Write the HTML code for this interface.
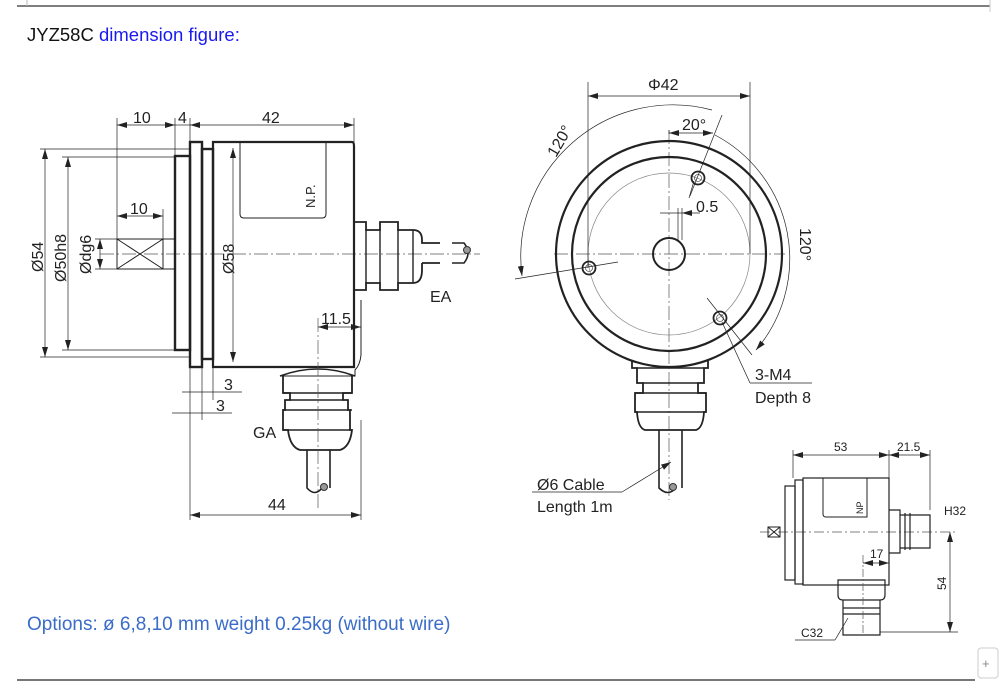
<!DOCTYPE html>
<html><head><meta charset="utf-8"><style>
html,body{margin:0;padding:0;background:#fff;}
svg{display:block;font-family:"Liberation Sans",Arial,sans-serif;}
</style></head><body>
<svg width="1000" height="692" viewBox="0 0 1000 692" xmlns="http://www.w3.org/2000/svg">
<defs>
<marker id="a" viewBox="0 0 10 6" refX="10" refY="3" markerWidth="10" markerHeight="6" orient="auto-start-reverse" markerUnits="userSpaceOnUse"><path d="M0 0 L10 3 L0 6 Z" fill="#222"/></marker>
</defs>
<line x1="17" y1="6" x2="990" y2="6" stroke="#555" stroke-width="1.5"/>
<line x1="27" y1="0" x2="27" y2="6" stroke="#bbb"/>
<line x1="990" y1="0" x2="990" y2="12" stroke="#ccc"/>
<text x="27" y="41" font-size="18.5" fill="#111">JYZ58C <tspan fill="#1a1aee">dimension figure:</tspan></text>
<line x1="17" y1="680" x2="975" y2="680" stroke="#777" stroke-width="2"/>
<rect x="978" y="648" width="20" height="30" rx="3" fill="#fff" stroke="#ccc"/>
<text x="982" y="668" font-size="13" fill="#888">+</text>
<text x="27" y="630" font-size="19" fill="#3a6cc8">Options: ø 6,8,10 mm weight 0.25kg (without wire)</text>

<g stroke="#222" fill="none" stroke-width="1">
<!-- LEFT VIEW -->
<line x1="100" y1="254" x2="480" y2="254" stroke="#555" stroke-width="0.7" stroke-dasharray="14 3 2 3"/>
<rect x="175" y="156" width="15" height="194" stroke-width="2.4"/>
<rect x="190" y="142" width="12" height="225" stroke-width="2.4"/>
<rect x="202" y="149" width="11" height="210" stroke-width="2.4"/>
<path d="M213 367 V142 H352 Q354 142 354 146 V367 Z" stroke-width="2.2"/>
<path d="M240 142 V214 Q240 218 244 218 H322 Q326 218 326 214 V142"/>
<text x="0" y="0" transform="translate(315,208) rotate(-90)" font-size="13" fill="#222" stroke="none">N.P.</text>
<rect x="117" y="239" width="46" height="30"/>
<line x1="117" y1="239" x2="163" y2="269"/><line x1="117" y1="269" x2="163" y2="239"/>
<line x1="163" y1="239" x2="175" y2="239"/><line x1="163" y1="269" x2="175" y2="269"/>
<!-- top dims -->
<line x1="117" y1="118" x2="117" y2="239" stroke-width="0.7"/>
<line x1="175" y1="118" x2="175" y2="156" stroke-width="0.7"/>
<line x1="190" y1="118" x2="190" y2="142" stroke-width="0.7"/>
<line x1="354" y1="118" x2="354" y2="142" stroke-width="0.7"/>
<line x1="117" y1="125" x2="175" y2="125" stroke-width="0.7" marker-start="url(#a)" marker-end="url(#a)"/>
<line x1="175" y1="125" x2="190" y2="125" stroke-width="0.7"/>
<line x1="190" y1="125" x2="354" y2="125" stroke-width="0.7" marker-start="url(#a)" marker-end="url(#a)"/>
<text x="133" y="123" font-size="16" fill="#222" stroke="none">10</text>
<text x="178" y="123" font-size="16" fill="#222" stroke="none">4</text>
<text x="262" y="123" font-size="16" fill="#222" stroke="none">42</text>
<line x1="117" y1="216" x2="163" y2="216" stroke-width="0.7" marker-start="url(#a)" marker-end="url(#a)"/>
<line x1="163" y1="209" x2="163" y2="239" stroke-width="0.7"/>
<text x="130" y="214" font-size="16" fill="#222" stroke="none">10</text>
<!-- vertical dims -->
<line x1="45" y1="149" x2="45" y2="357" stroke-width="0.7" marker-start="url(#a)" marker-end="url(#a)"/>
<line x1="40" y1="149" x2="190" y2="149" stroke-width="0.7"/>
<line x1="40" y1="357" x2="190" y2="357" stroke-width="0.7"/>
<line x1="68" y1="157" x2="68" y2="350" stroke-width="0.7" marker-start="url(#a)" marker-end="url(#a)"/>
<line x1="62" y1="157" x2="175" y2="157" stroke-width="0.7"/>
<line x1="62" y1="350" x2="175" y2="350" stroke-width="0.7"/>
<line x1="100" y1="239" x2="100" y2="269" stroke-width="0.7" marker-start="url(#a)" marker-end="url(#a)"/>
<line x1="95" y1="239" x2="117" y2="239" stroke-width="0.7"/>
<line x1="95" y1="269" x2="117" y2="269" stroke-width="0.7"/>
<line x1="233" y1="148" x2="233" y2="362" stroke-width="0.7" marker-start="url(#a)" marker-end="url(#a)"/>
<g fill="#222" stroke="none" font-size="16">
<text transform="translate(43,272) rotate(-90)">Ø54</text>
<text transform="translate(66,282) rotate(-90)">Ø50h8</text>
<text transform="translate(91,274) rotate(-90)">Ødg6</text>
<text transform="translate(234,274) rotate(-90)">Ø58</text>
</g>
<!-- EA -->
<path d="M354 220 V290" stroke-width="2"/>
<path d="M354 222 H366 V230 H380 V222 H398 V230 H413 Q422 230 422 240 V243 H440 M422 263 V270 Q422 283 413 283 H398 V290 H380 V283 H366 V290 H354" stroke-width="1.8"/>
<path d="M366 230 V283 M380 230 V283 M398 230 V283 M413 230 V283" stroke-width="1.4"/>
<line x1="422" y1="263" x2="440" y2="263" stroke-width="1.8"/>
<path d="M452 243 H464 Q472 253 464 263 H452" stroke-width="1.6"/>
<circle cx="467" cy="250" r="3.5" fill="#999" stroke="#333"/>
<text x="430" y="302" font-size="16" fill="#222" stroke="none">EA</text>
<!-- GA -->
<path d="M280 376 Q318 362 355 376" stroke-width="1.5"/>
<path d="M280 376 H355 V370 Q360 365 361 355 V300" stroke-width="1"/>
<path d="M283 376 V393 H290 V400 H285 V410 H283 V430 H288 Q290 447 300 450 H340 Q350 447 352 430 H350 V410 H348 V400 H343 V393 H352 V376" stroke-width="1.8"/>
<path d="M283 410 H352 M283 430 H352 M290 400 H343 M283 393 H352" stroke-width="1.4"/>
<path d="M307 450 V488 Q315 497 322 488 M330 450 V488" stroke-width="1.6"/>
<circle cx="324" cy="487" r="3.5" fill="#999" stroke="#333"/>
<line x1="318" y1="318" x2="318" y2="510" stroke="#555" stroke-width="0.7" stroke-dasharray="14 3 2 3"/>
<line x1="318" y1="327" x2="361" y2="327" stroke-width="0.7" marker-start="url(#a)" marker-end="url(#a)"/>
<text x="321" y="324" font-size="16" fill="#222" stroke="none">11.5</text>
<line x1="190" y1="367" x2="190" y2="520" stroke-width="0.7"/>
<line x1="202" y1="367" x2="202" y2="420" stroke-width="0.7"/>
<line x1="213" y1="367" x2="213" y2="400" stroke-width="0.7"/>
<line x1="361" y1="420" x2="361" y2="520" stroke-width="0.7"/>
<line x1="182" y1="392" x2="242" y2="392" stroke-width="0.7"/>
<line x1="172" y1="413" x2="232" y2="413" stroke-width="0.7"/>
<text x="224" y="390" font-size="16" fill="#222" stroke="none">3</text>
<text x="216" y="411" font-size="16" fill="#222" stroke="none">3</text>
<text x="253" y="438" font-size="16" fill="#222" stroke="none">GA</text>
<line x1="190" y1="515" x2="361" y2="515" stroke-width="0.7" marker-start="url(#a)" marker-end="url(#a)"/>
<text x="268" y="510" font-size="16" fill="#222" stroke="none">44</text>

<!-- FRONT VIEW -->
<line x1="554" y1="254" x2="785" y2="254" stroke="#555" stroke-width="0.7" stroke-dasharray="14 3 2 3"/>
<line x1="669" y1="130" x2="669" y2="500" stroke="#555" stroke-width="0.7" stroke-dasharray="14 3 2 3"/>
<circle cx="669" cy="254" r="113" stroke-width="2.2"/>
<circle cx="669" cy="254" r="97" stroke-width="2.2"/>
<circle cx="669" cy="254" r="81" stroke="#888" stroke-width="0.7"/>
<circle cx="669" cy="254" r="16" stroke-width="2"/>
<circle cx="698" cy="178" r="6.5" stroke-width="1.8"/><circle cx="698" cy="178" r="3.5" stroke-width="0.6"/>
<circle cx="589" cy="268" r="6.5" stroke-width="1.8"/><circle cx="589" cy="268" r="3.5" stroke-width="0.6"/>
<circle cx="720" cy="318" r="6.5" stroke-width="1.8"/><circle cx="720" cy="318" r="3.5" stroke-width="0.6"/>
<line x1="588" y1="82" x2="588" y2="268" stroke-width="0.7"/>
<line x1="750" y1="82" x2="750" y2="254" stroke-width="0.7"/>
<line x1="588" y1="96" x2="750" y2="96" stroke-width="0.7" marker-start="url(#a)" marker-end="url(#a)"/>
<text x="648" y="90" font-size="16" fill="#222" stroke="none">Φ42</text>
<line x1="669" y1="130" x2="669" y2="134" stroke-width="0.7"/>
<line x1="669" y1="133" x2="713" y2="133" stroke-width="0.7" marker-start="url(#a)" marker-end="url(#a)"/>
<line x1="690" y1="196" x2="722" y2="115" stroke-width="0.7"/>
<text x="682" y="130" font-size="16" fill="#222" stroke="none">20°</text>
<line x1="660" y1="213" x2="682" y2="213" stroke-width="0.7"/>
<line x1="682" y1="213" x2="700" y2="213" stroke-width="0.7" marker-start="url(#a)"/>
<line x1="678" y1="208" x2="678" y2="240" stroke-width="0.7"/><line x1="682" y1="208" x2="682" y2="240" stroke-width="0.7"/>
<text x="696" y="212" font-size="16" fill="#222" stroke="none">0.5</text>
<path d="M522 276 A152 152 0 0 1 712 110" stroke-width="0.7" marker-start="url(#a)"/>
<line x1="515" y1="279" x2="618" y2="262" stroke-width="0.7"/>
<text transform="translate(556,158) rotate(-60)" font-size="16" fill="#222" stroke="none">120°</text>
<path d="M715 135 A140 140 0 0 1 756 350" stroke-width="0.7" marker-end="url(#a)"/>
<line x1="707" y1="298" x2="752" y2="355" stroke-width="0.7"/>
<text transform="translate(800,228) rotate(90)" font-size="16" fill="#222" stroke="none">120°</text>
<line x1="694" y1="181" x2="689" y2="198" stroke-width="0.7"/>
<line x1="722" y1="322" x2="750" y2="383" stroke-width="0.7"/>
<line x1="750" y1="383" x2="812" y2="383" stroke-width="0.7"/>
<text x="755" y="380" font-size="16" fill="#222" stroke="none">3-M4</text>
<text x="755" y="403" font-size="16" fill="#222" stroke="none">Depth 8</text>
<path d="M632 360 V368 H637 V383 H643 V393 H635 V412 H637 Q638 428 645 430 H696 Q703 428 704 412 H706 V393 H698 V383 H704 V368 H708 V360" stroke-width="1.8"/>
<path d="M637 368 H704 M643 383 H698 M635 393 H706 M635 412 H706" stroke-width="1.4"/>
<path d="M659 430 V488 Q668 497 676 488 M682 430 V488" stroke-width="1.6"/>
<circle cx="673" cy="487" r="3.5" fill="#999" stroke="#333"/>
<line x1="622" y1="492" x2="671" y2="462" stroke-width="0.7" marker-end="url(#a)"/>
<line x1="532" y1="492" x2="622" y2="492" stroke-width="0.7"/>
<text x="537" y="490" font-size="16" fill="#222" stroke="none">Ø6 Cable</text>
<text x="537" y="512" font-size="16" fill="#222" stroke="none">Length 1m</text>

<!-- SMALL VIEW -->
<line x1="760" y1="532" x2="958" y2="532" stroke="#555" stroke-width="0.7" stroke-dasharray="10 3 2 3"/>
<line x1="793" y1="450" x2="793" y2="478" stroke-width="0.7"/>
<line x1="889" y1="450" x2="889" y2="478" stroke-width="0.7"/>
<line x1="930" y1="450" x2="930" y2="510" stroke-width="0.7"/>
<line x1="793" y1="455" x2="889" y2="455" stroke-width="0.7" marker-start="url(#a)" marker-end="url(#a)"/>
<line x1="889" y1="455" x2="930" y2="455" stroke-width="0.7" marker-start="url(#a)" marker-end="url(#a)"/>
<text x="834" y="451" font-size="12" fill="#222" stroke="none">53</text>
<text x="897" y="451" font-size="12" fill="#222" stroke="none">21.5</text>
<rect x="785" y="486" width="10" height="94" stroke-width="1.2"/>
<rect x="795" y="480" width="8" height="104" stroke-width="1.2"/>
<rect x="803" y="478" width="86" height="107" stroke-width="1.2"/>
<path d="M823 478 V514 Q823 517 826 517 H867 V478" stroke-width="1"/>
<text transform="translate(863,514) rotate(-90)" font-size="9" fill="#222" stroke="none">NP</text>
<rect x="768" y="527" width="12" height="10"/>
<line x1="768" y1="527" x2="780" y2="537"/><line x1="768" y1="537" x2="780" y2="527"/>
<path d="M889 510 H900 V553 H889 M900 515 H930 V548 H900 M905 513 V550 M910 513 V550" stroke-width="1.2"/>
<text x="944" y="515" font-size="12" fill="#222" stroke="none">H32</text>
<path d="M838 580 V595 Q838 600 843 600 H880 Q885 600 885 595 V580 Z M843 600 V635 H880 V600 M843 608 H880 M843 614 H880" stroke-width="1.2"/>
<line x1="863" y1="555" x2="863" y2="635" stroke="#555" stroke-width="0.7" stroke-dasharray="8 2 2 2"/>
<line x1="863" y1="563" x2="889" y2="563" stroke-width="0.7" marker-start="url(#a)" marker-end="url(#a)"/>
<text x="870" y="558" font-size="12" fill="#222" stroke="none">17</text>
<line x1="950" y1="532" x2="950" y2="632" stroke-width="0.7" marker-start="url(#a)" marker-end="url(#a)"/>
<line x1="880" y1="632" x2="958" y2="632" stroke-width="0.7"/>
<text transform="translate(946,590) rotate(-90)" font-size="12" fill="#222" stroke="none">54</text>
<line x1="795" y1="640" x2="835" y2="640" stroke-width="0.7"/>
<line x1="835" y1="640" x2="848" y2="618" stroke-width="0.7"/>
<text x="801" y="637" font-size="12" fill="#222" stroke="none">C32</text>
</g>
</svg>
</body></html>
